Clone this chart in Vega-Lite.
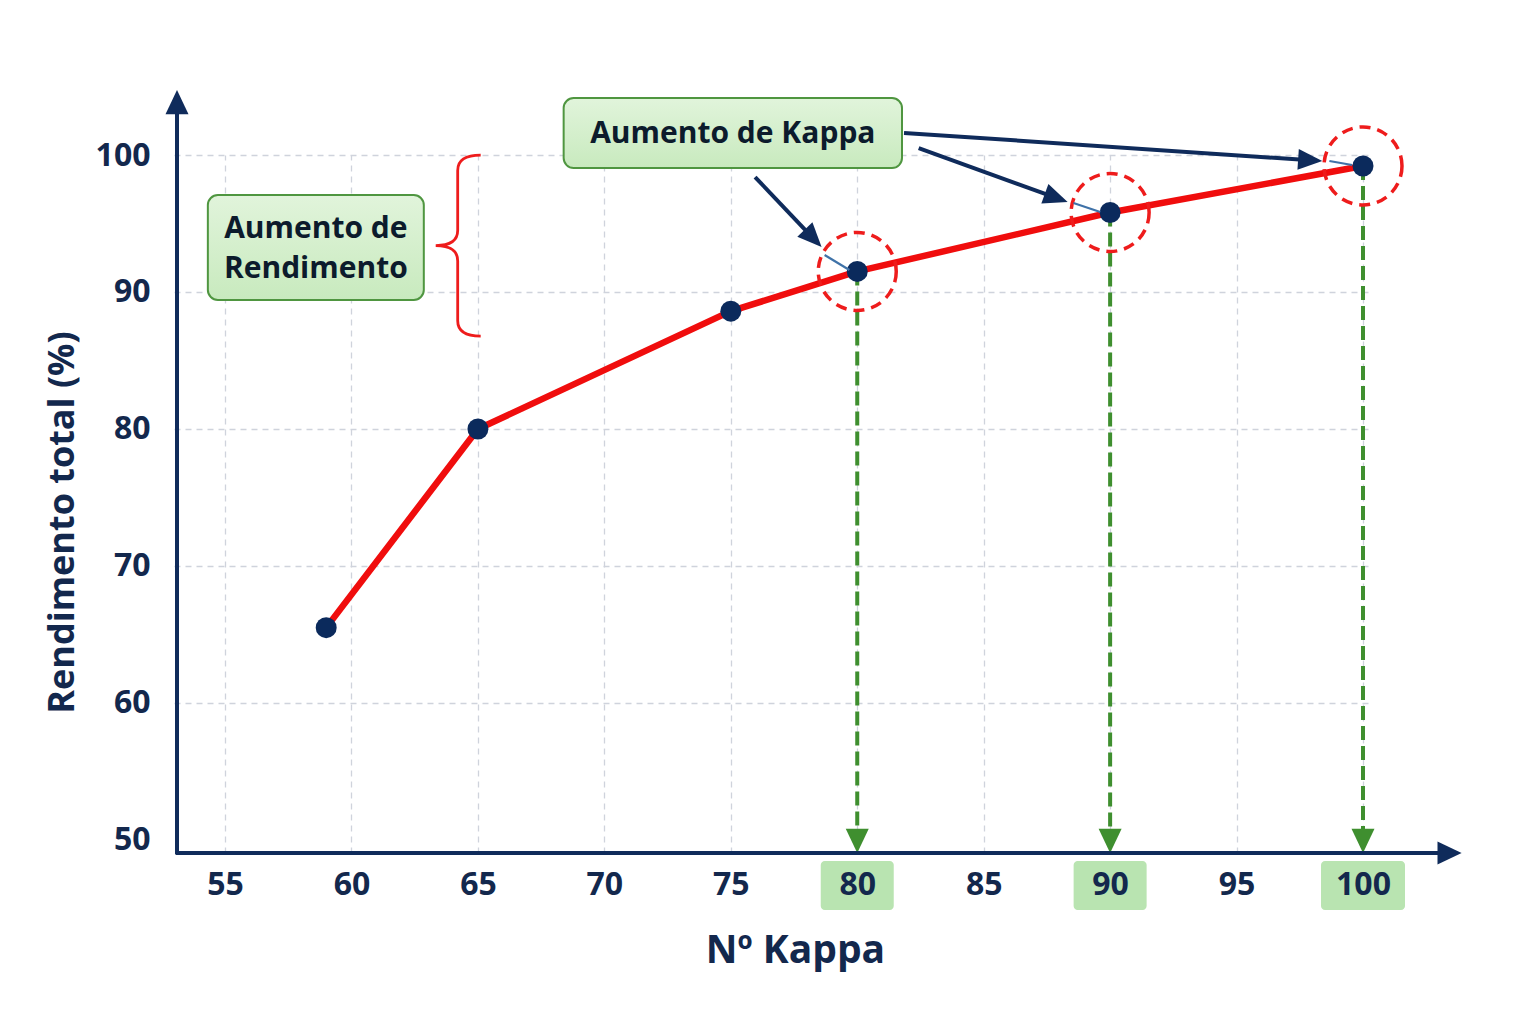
{
  "$schema": "https://vega.github.io/schema/vega-lite/v6.json",
  "width": 1196,
  "height": 698,
  "autosize": {"type": "none"},
  "padding": {"left": 172, "top": 155, "right": 168, "bottom": 171},
  "background": "white",
  "config": {"view": {"stroke": null}, "font": "Open Sans"},
  "resolve": {"axis": {"x": "independent", "y": "independent"}},
  "datasets": {
    "curve": [
      {"kappa": 59, "rendimiento": 65.5},
      {"kappa": 65, "rendimiento": 80.0},
      {"kappa": 75, "rendimiento": 88.6},
      {"kappa": 80, "rendimiento": 91.5},
      {"kappa": 90, "rendimiento": 95.8},
      {"kappa": 100, "rendimiento": 99.2}
    ],
    "boxes": [
      {"x": 54.32, "x2": 62.86, "y": 97.08, "y2": 89.42, "tx": 58.59, "ty": 94.6, "text": "Aumento de\nRendimento"},
      {"x": 68.39, "x2": 81.77, "y": 104.16, "y2": 99.05, "tx": 75.08, "ty": 101.5, "text": "Aumento de Kappa"}
    ],
    "arrows": [
      {"x": 75.96, "y": 98.39, "x2": 78.26, "y2": 93.92, "tx": 78.59, "ty": 93.28, "angle": 46.3},
      {"x": 82.43, "y": 100.51, "x2": 87.87, "y2": 96.87, "tx": 88.32, "ty": 96.57, "angle": 19.8},
      {"x": 81.85, "y": 101.61, "x2": 97.92, "y2": 99.62, "tx": 98.39, "ty": 99.56, "angle": 3.8}
    ],
    "links": [
      {"x": 78.71, "y": 92.70, "x2": 79.69, "y2": 91.61},
      {"x": 88.55, "y": 96.50, "x2": 89.61, "y2": 95.84},
      {"x": 98.67, "y": 99.56, "x2": 99.57, "y2": 99.27}
    ],
    "brace": [{"x": 64.2, "y": 93.39}],
    "axisLines": [
      {"x": 53.05, "y": 49.05, "x2": 103.4, "y2": 49.05},
      {"x": 53.1, "y": 48.95, "x2": 53.1, "y2": 104.2}
    ],
    "axisHeads": [
      {"x": 103.9, "y": 49.05, "angle": 0},
      {"x": 53.1, "y": 104.74, "angle": -90}
    ]
  },
  "layer": [
    {
      "data": {"name": "curve"},
      "transform": [{"filter": "datum.kappa == 80 || datum.kappa == 90"}],
      "mark": {"type": "bar", "width": 73, "cornerRadius": 4, "fill": "#b9e4b1"},
      "encoding": {
        "x": {"field": "kappa", "type": "quantitative", "scale": {"domain": [53.1, 100], "nice": false, "zero": false},
          "axis": {"orient": "top", "title": null, "values": [55, 60, 65, 70, 75, 80, 85, 90, 95, 100], "labels": false, "ticks": false, "domain": false,
            "grid": true, "gridColor": "#cfd3dc", "gridDash": [6, 5], "gridWidth": 1.3, "zindex": 0}},
        "y": {"datum": 48.47, "type": "quantitative", "scale": {"domain": [49.05, 100], "nice": false, "zero": false},
          "axis": {"orient": "right", "title": null, "values": [60, 70, 80, 90, 100], "labels": false, "ticks": false, "domain": false,
            "grid": true, "gridColor": "#cfd3dc", "gridDash": [6, 5], "gridWidth": 1.3, "zindex": 0}},
        "y2": {"datum": 44.89}
      }
    },
    {
      "data": {"name": "curve"},
      "transform": [{"filter": "datum.kappa == 100"}],
      "mark": {"type": "bar", "width": 84, "cornerRadius": 4, "fill": "#b9e4b1"},
      "encoding": {
        "x": {"field": "kappa", "type": "quantitative", "scale": {"domain": [53.1, 100], "nice": false, "zero": false}, "axis": null},
        "y": {"datum": 48.47, "type": "quantitative", "scale": {"domain": [49.05, 100], "nice": false, "zero": false}, "axis": null},
        "y2": {"datum": 44.89}
      }
    },
    {
      "data": {"name": "brace"},
      "mark": {"type": "point", "shape": "M0.254,-1Q0,-1,0,-0.83L0,-0.17Q0,0,-0.243,0Q0,0,0,0.17L0,0.83Q0,1,0.254,1", "size": 32761, "filled": false, "stroke": "#ee1c1c", "strokeWidth": 2.8, "opacity": 1},
      "encoding": {
        "x": {"field": "x", "type": "quantitative", "scale": {"domain": [53.1, 100], "nice": false, "zero": false}, "axis": null},
        "y": {"field": "y", "type": "quantitative", "scale": {"domain": [49.05, 100], "nice": false, "zero": false}, "axis": null}
      }
    },
    {
      "data": {"name": "curve"},
      "transform": [{"filter": "datum.kappa >= 80"}],
      "mark": {"type": "rule", "color": "#3f8f2f", "strokeWidth": 4, "strokeDash": [14, 6]},
      "encoding": {
        "x": {"field": "kappa", "type": "quantitative", "scale": {"domain": [53.1, 100], "nice": false, "zero": false}, "axis": null},
        "y": {"field": "rendimiento", "type": "quantitative", "scale": {"domain": [49.05, 100], "nice": false, "zero": false}, "axis": null},
        "y2": {"datum": 50.6}
      }
    },
    {
      "data": {"name": "curve"},
      "transform": [{"filter": "datum.kappa >= 80"}],
      "mark": {"type": "point", "shape": "M-1,-2.1L1,-2.1L0,0Z", "size": 529, "filled": true, "fill": "#3f8f2f", "opacity": 1, "strokeWidth": 0},
      "encoding": {
        "x": {"field": "kappa", "type": "quantitative", "scale": {"domain": [53.1, 100], "nice": false, "zero": false}, "axis": null},
        "y": {"datum": 49.05, "type": "quantitative", "scale": {"domain": [49.05, 100], "nice": false, "zero": false}, "axis": null}
      }
    },
    {
      "data": {"name": "curve"},
      "mark": {"type": "line", "color": "#f00d0d", "strokeWidth": 6.5, "strokeCap": "round", "strokeJoin": "round"},
      "encoding": {
        "x": {
          "field": "kappa", "type": "quantitative",
          "scale": {"domain": [53.1, 100], "nice": false, "zero": false},
          "axis": {
            "orient": "bottom",
            "title": "Nº Kappa",
            "values": [55, 60, 65, 70, 75, 80, 85, 90, 95, 100],
            "domain": false, "ticks": false, "grid": false,
            "labelFont": "Open Sans", "labelFontSize": 32, "labelFontWeight": "bold", "labelColor": "#13284d", "labelPadding": 16,
            "titleFont": "Open Sans", "titleFontSize": 39, "titleFontWeight": "bold", "titleColor": "#13284d",
            "titleX": 623, "titleY": 97, "titleAlign": "center", "titleBaseline": "middle",
            "zindex": 1
          }
        },
        "y": {
          "field": "rendimiento", "type": "quantitative",
          "scale": {"domain": [49.05, 100], "nice": false, "zero": false},
          "axis": {
            "orient": "left",
            "title": "Rendimento total (%)",
            "values": [50, 60, 70, 80, 90, 100],
            "domain": false, "ticks": false, "grid": false,
            "labelFont": "Open Sans", "labelFontSize": 32, "labelFontWeight": "bold", "labelColor": "#13284d", "labelPadding": 22,
            "titleFont": "Open Sans", "titleFontSize": 36, "titleFontWeight": "bold", "titleColor": "#13284d",
            "titleX": -110, "titleY": 367, "titleAngle": -90, "titleAlign": "center", "titleBaseline": "middle",
            "zindex": 1
          }
        }
      }
    },
    {
      "data": {"name": "curve"},
      "transform": [{"filter": "datum.kappa >= 80"}],
      "mark": {"type": "point", "shape": "circle", "size": 6084, "filled": false, "stroke": "#ee1c1c", "strokeWidth": 3.5, "strokeDash": [11, 7], "opacity": 1},
      "encoding": {
        "x": {"field": "kappa", "type": "quantitative", "scale": {"domain": [53.1, 100], "nice": false, "zero": false}, "axis": null},
        "y": {"field": "rendimiento", "type": "quantitative", "scale": {"domain": [49.05, 100], "nice": false, "zero": false}, "axis": null}
      }
    },
    {
      "data": {"name": "curve"},
      "mark": {"type": "point", "shape": "circle", "size": 440, "filled": true, "fill": "#0b2a5c", "opacity": 1, "strokeWidth": 0},
      "encoding": {
        "x": {"field": "kappa", "type": "quantitative", "scale": {"domain": [53.1, 100], "nice": false, "zero": false}, "axis": null},
        "y": {"field": "rendimiento", "type": "quantitative", "scale": {"domain": [49.05, 100], "nice": false, "zero": false}, "axis": null}
      }
    },
    {
      "data": {"name": "links"},
      "mark": {"type": "rule", "color": "#3f72a8", "strokeWidth": 2.2},
      "encoding": {
        "x": {"field": "x", "type": "quantitative", "scale": {"domain": [53.1, 100], "nice": false, "zero": false}, "axis": null},
        "y": {"field": "y", "type": "quantitative", "scale": {"domain": [49.05, 100], "nice": false, "zero": false}, "axis": null},
        "x2": {"field": "x2"},
        "y2": {"field": "y2"}
      }
    },
    {
      "data": {"name": "arrows"},
      "mark": {"type": "rule", "color": "#0f2b5b", "strokeWidth": 4},
      "encoding": {
        "x": {"field": "x", "type": "quantitative", "scale": {"domain": [53.1, 100], "nice": false, "zero": false}, "axis": null},
        "y": {"field": "y", "type": "quantitative", "scale": {"domain": [49.05, 100], "nice": false, "zero": false}, "axis": null},
        "x2": {"field": "x2"},
        "y2": {"field": "y2"}
      }
    },
    {
      "data": {"name": "arrows"},
      "mark": {"type": "point", "shape": "M0,0L-2.2,-0.95L-2.2,0.95Z", "size": 484, "filled": true, "fill": "#0f2b5b", "opacity": 1, "strokeWidth": 0},
      "encoding": {
        "x": {"field": "tx", "type": "quantitative", "scale": {"domain": [53.1, 100], "nice": false, "zero": false}, "axis": null},
        "y": {"field": "ty", "type": "quantitative", "scale": {"domain": [49.05, 100], "nice": false, "zero": false}, "axis": null},
        "angle": {"field": "angle", "type": "quantitative", "scale": null}
      }
    },
    {
      "data": {"name": "axisLines"},
      "mark": {"type": "rule", "color": "#0f2b5b", "strokeWidth": 4},
      "encoding": {
        "x": {"field": "x", "type": "quantitative", "scale": {"domain": [53.1, 100], "nice": false, "zero": false}, "axis": null},
        "y": {"field": "y", "type": "quantitative", "scale": {"domain": [49.05, 100], "nice": false, "zero": false}, "axis": null},
        "x2": {"field": "x2"},
        "y2": {"field": "y2"}
      }
    },
    {
      "data": {"name": "axisHeads"},
      "mark": {"type": "point", "shape": "M0,0L-2.1,-1L-2.1,1Z", "size": 529, "filled": true, "fill": "#0f2b5b", "opacity": 1, "strokeWidth": 0},
      "encoding": {
        "x": {"field": "x", "type": "quantitative", "scale": {"domain": [53.1, 100], "nice": false, "zero": false}, "axis": null},
        "y": {"field": "y", "type": "quantitative", "scale": {"domain": [49.05, 100], "nice": false, "zero": false}, "axis": null},
        "angle": {"field": "angle", "type": "quantitative", "scale": null}
      }
    },
    {
      "data": {"name": "boxes"},
      "mark": {"type": "rect", "cornerRadius": 10, "stroke": "#4f9640", "strokeWidth": 2,
        "fill": {"gradient": "linear", "x1": 0, "y1": 0, "x2": 0, "y2": 1, "stops": [{"offset": 0, "color": "#e1f4db"}, {"offset": 1, "color": "#c8eabe"}]}},
      "encoding": {
        "x": {"field": "x", "type": "quantitative", "scale": {"domain": [53.1, 100], "nice": false, "zero": false}, "axis": null},
        "y": {"field": "y", "type": "quantitative", "scale": {"domain": [49.05, 100], "nice": false, "zero": false}, "axis": null},
        "x2": {"field": "x2"},
        "y2": {"field": "y2"}
      }
    },
    {
      "data": {"name": "boxes"},
      "mark": {"type": "text", "font": "Open Sans", "fontSize": 30, "fontWeight": "bold", "color": "#0c1b2c", "align": "center", "baseline": "middle", "lineBreak": "\n", "lineHeight": 40},
      "encoding": {
        "x": {"field": "tx", "type": "quantitative", "scale": {"domain": [53.1, 100], "nice": false, "zero": false}, "axis": null},
        "y": {"field": "ty", "type": "quantitative", "scale": {"domain": [49.05, 100], "nice": false, "zero": false}, "axis": null},
        "text": {"field": "text"}
      }
    }
  ]
}
